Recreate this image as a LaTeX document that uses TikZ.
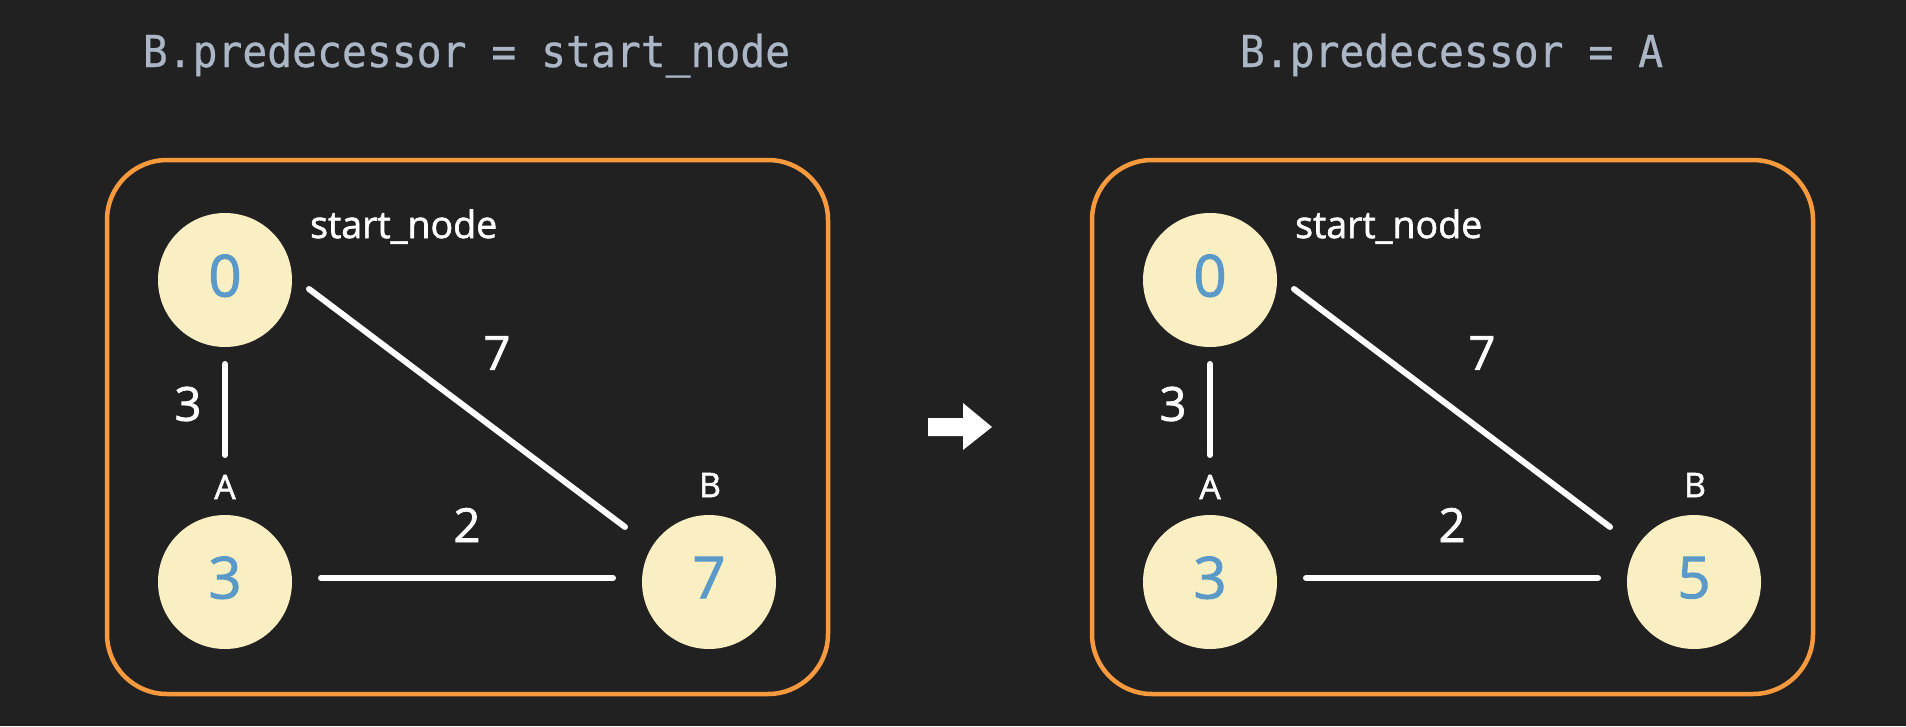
\documentclass[tikz,border=0pt]{standalone}
\usepackage{fontspec}
\setmainfont{Open Sans}
\newfontfamily\semib[FakeBold=1.6]{Open Sans}
\newfontfamily\titlefont[FakeStretch=0.94,FakeBold=0.6]{DejaVu Sans Mono}
\usetikzlibrary{calc}
\definecolor{bgc}{HTML}{222121}
\definecolor{boxc}{HTML}{F79A3E}
\definecolor{nodefill}{HTML}{F9EFC2}
\definecolor{digitc}{HTML}{5B9AC8}
\definecolor{titlec}{HTML}{ABB6C6}
\tikzset{
  vertex/.style={circle, fill=nodefill, draw=none, minimum size=134pt, inner sep=0pt,
    text=digitc, font=\semib\fontsize{58}{58}\selectfont},
  edge/.style={draw=white, line width=6pt, line cap=round},
  wlabel/.style={text=white, font=\semib\fontsize{47}{47}\selectfont, inner sep=0pt},
  vlabel/.style={text=white, font=\semib\fontsize{34}{34}\selectfont, inner sep=0pt},
  snlabel/.style={text=white, font=\semib\fontsize{37.5}{37.5}\selectfont, inner sep=0pt},
  panelbox/.style={draw=boxc, line width=4.5pt, rounded corners=60pt},
  titletext/.style={text=titlec, font=\titlefont\fontsize{44}{44}\selectfont, inner sep=0pt},
}
\newcommand\drawpanel[4]{%
  \begin{scope}[xshift=#1]
    \draw[panelbox] (107,160) rectangle (828,694);
    \node[titletext, anchor=base] (#2title) at (466.5,67) {#4};
    \node[vertex] (#2z) at (225,280) {\raisebox{9pt}{0}};
    \node[vertex] (#2a) at (225,582) {\raisebox{9pt}{3}};
    \node[vertex] (#2b) at (709,582) {\raisebox{9pt}{#3}};
    \node[snlabel, anchor=base west] (#2sn) at (310,238) {start\_node};
    \node[vlabel] (#2la) at (225,487) {A};
    \node[vlabel] (#2lb) at (710,485) {B};
    \node[wlabel] (#2w3) at (188,404) {3};
    \node[wlabel] (#2w7) at (497,353) {7};
    \node[wlabel] (#2w2) at (467,525) {2};
    \draw[edge] ($(#2z)+(0,84)$) -- ($(#2a)+(0,-127)$);
    \draw[edge] ($(#2z)+(84,9)$) -- ($(#2b)+(-84,-55)$);
    \draw[edge] ($(#2a)+(96,-4)$) -- ($(#2b)+(-96,-4)$);
  \end{scope}}
\begin{document}
\begin{tikzpicture}[x=1pt, y=-1pt]
  \fill[bgc] (0,0) rectangle (1906,726);
  \useasboundingbox (0,0) rectangle (1906,726);
  \drawpanel{0pt}{l}{7}{B.predecessor = start\_node}
  \drawpanel{985pt}{r}{5}{B.predecessor = A}
  \fill[white] (928,418) -- (963,418) -- (963,403) -- (992,427) -- (963,450) -- (963,436) -- (928,436) -- cycle;
\end{tikzpicture}
\end{document}
